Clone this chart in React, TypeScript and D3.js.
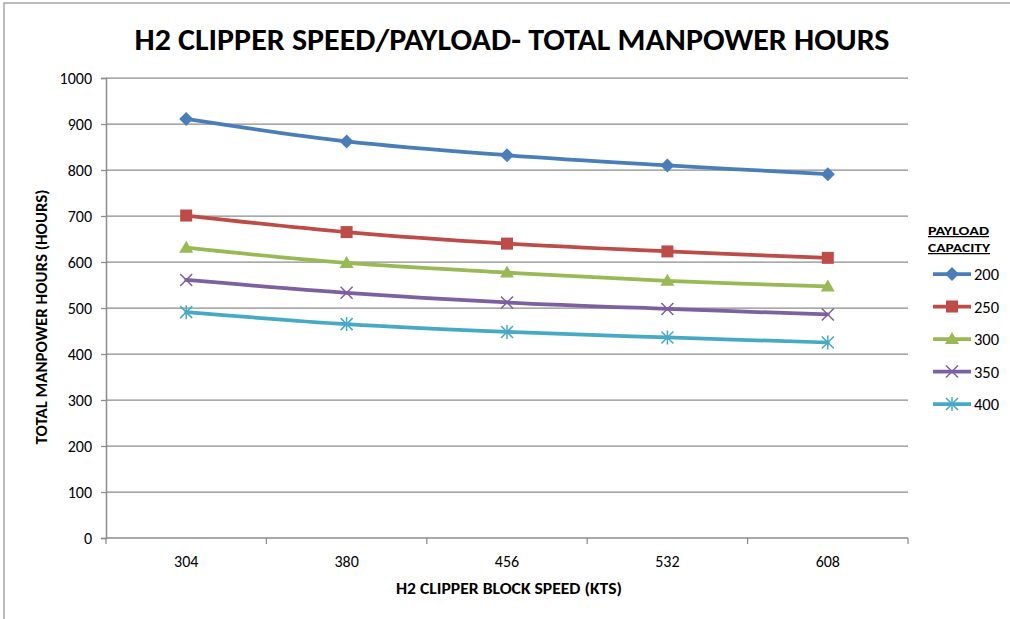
import * as d3 from "d3";
import { useEffect, useRef } from "react";

// chart values
const speeds = ["304", "380", "456", "532", "608"];
const payloads = ["200", "250", "300", "350", "400"];
const hours200 = [911, 862, 832, 810, 791];
const hours250 = [701, 665, 640, 623, 609];
const hours300 = [631, 598, 577, 559, 547];
const hours350 = [561, 533, 512, 498, 486];
const hours400 = [491, 465, 448, 436, 425];
const yTicks = [0, 100, 200, 300, 400, 500, 600, 700, 800, 900, 1000];

const colors = ["#4A7EBB", "#BE4B48", "#98B954", "#7D60A0", "#46AAC5"];
const font = "Carlito, Calibri, 'Liberation Sans', Arial, sans-serif";

const drawMarker = (g, kind, color) => {
  if (kind === 0) {
    g.append("path").attr("d", "M0,-7L7,0L0,7L-7,0Z").attr("fill", color);
  } else if (kind === 1) {
    g.append("rect").attr("x", -6).attr("y", -6).attr("width", 12).attr("height", 12).attr("fill", color);
  } else if (kind === 2) {
    g.append("path").attr("d", "M0,-7L7,5L-7,5Z").attr("fill", color);
  } else if (kind === 3) {
    g.append("path").attr("d", "M-6,-6L6,6M-6,6L6,-6").attr("stroke", color).attr("stroke-width", 1.5);
  } else {
    g.append("path")
      .attr("d", "M-6,-6L6,6M-6,6L6,-6M0,-7L0,7")
      .attr("stroke", color).attr("stroke-width", 1.5);
  }
};

const redraw = (ref) => {
  const svg = d3.select(ref.current);
  svg.selectAll("*").remove();

  const series = [hours200, hours250, hours300, hours350, hours400];
  const left = 106, right = 908, top = 78, bottom = 538;

  const x = d3.scaleBand().domain(speeds).range([left, right]);
  const y = d3.scaleLinear().domain([0, 1000]).range([bottom, top]);

  // outer frame
  svg.append("rect").attr("x", 4).attr("y", 3).attr("width", 1020).attr("height", 640)
    .attr("fill", "white").attr("stroke", "#a6a6a6").attr("stroke-width", 1.5);

  svg.append("text").attr("x", 512).attr("y", 50).attr("text-anchor", "middle")
    .attr("font-family", font).attr("font-weight", "bold").attr("font-size", 31)
    .attr("textLength", 755).attr("lengthAdjust", "spacingAndGlyphs")
    .text("H2 CLIPPER SPEED/PAYLOAD- TOTAL MANPOWER HOURS");

  // grid
  svg.append("g").selectAll("line").data(yTicks.filter(d => d > 0)).enter().append("line")
    .attr("x1", left).attr("x2", right).attr("y1", d => y(d)).attr("y2", d => y(d))
    .attr("stroke", "#8c8c8c").attr("stroke-width", 1.25);

  const yAxis = svg.append("g").attr("transform", `translate(${left},0)`)
    .call(d3.axisLeft(y).tickValues(yTicks).tickFormat(d3.format("d")).tickSize(5).tickPadding(9));
  yAxis.select(".domain").attr("stroke", "#8c8c8c").attr("stroke-width", 1.5);
  yAxis.selectAll(".tick line").attr("stroke", "#8c8c8c").attr("stroke-width", 1.25);
  yAxis.selectAll("text").attr("font-family", font).attr("font-size", 16).attr("fill", "#000");

  const xAxis = svg.append("g").attr("transform", `translate(0,${bottom})`)
    .call(d3.axisBottom(x).tickSize(0).tickPadding(18));
  xAxis.select(".domain").remove();
  xAxis.selectAll("text").attr("font-family", font).attr("font-size", 16).attr("fill", "#000");
  svg.append("line").attr("x1", left).attr("x2", right).attr("y1", bottom).attr("y2", bottom)
    .attr("stroke", "#8c8c8c").attr("stroke-width", 1.5);
  const bounds = speeds.map(s => x(s)).concat([right]);
  svg.append("g").selectAll("line").data(bounds).enter().append("line")
    .attr("x1", d => d).attr("x2", d => d).attr("y1", bottom).attr("y2", bottom + 6)
    .attr("stroke", "#8c8c8c").attr("stroke-width", 1.25);

  svg.append("text").attr("x", 509).attr("y", 594).attr("text-anchor", "middle")
    .attr("font-family", font).attr("font-weight", "bold").attr("font-size", 15)
    .attr("textLength", 226).attr("lengthAdjust", "spacingAndGlyphs")
    .text("H2 CLIPPER BLOCK SPEED  (KTS)");

  svg.append("text").attr("transform", "translate(47,317) rotate(-90)").attr("text-anchor", "middle")
    .attr("font-family", font).attr("font-weight", "bold").attr("font-size", 15)
    .attr("textLength", 255).attr("lengthAdjust", "spacingAndGlyphs")
    .text("TOTAL MANPOWER  HOURS (HOURS)");

  const cx = (i) => x(speeds[i]) + x.bandwidth() / 2;
  const line = d3.line().x((d, i) => cx(i)).y(d => y(d)).curve(d3.curveCatmullRom.alpha(0.5));

  series.forEach((vals, k) => {
    svg.append("path").datum(vals).attr("d", line).attr("fill", "none")
      .attr("stroke", colors[k]).attr("stroke-width", 3.75).attr("stroke-linecap", "round");
    vals.forEach((v, i) => {
      drawMarker(svg.append("g").attr("transform", `translate(${cx(i)},${y(v)})`), k, colors[k]);
    });
  });

  // legend
  const lg = svg.append("g");
  ["PAYLOAD", "CAPACITY"].forEach((t, i) => {
    lg.append("text").attr("x", 928).attr("y", 235 + i * 17)
      .attr("font-family", font).attr("font-weight", "bold").attr("font-size", 12.5)
      .attr("text-decoration", "underline")
      .attr("textLength", i === 0 ? 61 : 62).attr("lengthAdjust", "spacingAndGlyphs").text(t);
  });
  const legendY = d3.scalePoint().domain(payloads).range([274, 404]);
  payloads.forEach((p, k) => {
    const ly = legendY(p);
    lg.append("line").attr("x1", 933).attr("x2", 971).attr("y1", ly).attr("y2", ly)
      .attr("stroke", colors[k]).attr("stroke-width", 3.75);
    drawMarker(lg.append("g").attr("transform", `translate(952,${ly})`), k, colors[k]);
    lg.append("text").attr("x", 974).attr("y", ly + 6)
      .attr("font-family", font).attr("font-size", 16.5).text(p);
  });
};

export default function App() {
  const ref = useRef(null);
  useEffect(() => {
    redraw(ref);
  }, []);
  return (
    <div style={{ position: "absolute", left: 0, top: 0, width: 1010, height: 619, overflow: "hidden", background: "white" }}>
      <svg ref={ref} width={1010} height={619} style={{ display: "block" }} />
    </div>
  );
}
